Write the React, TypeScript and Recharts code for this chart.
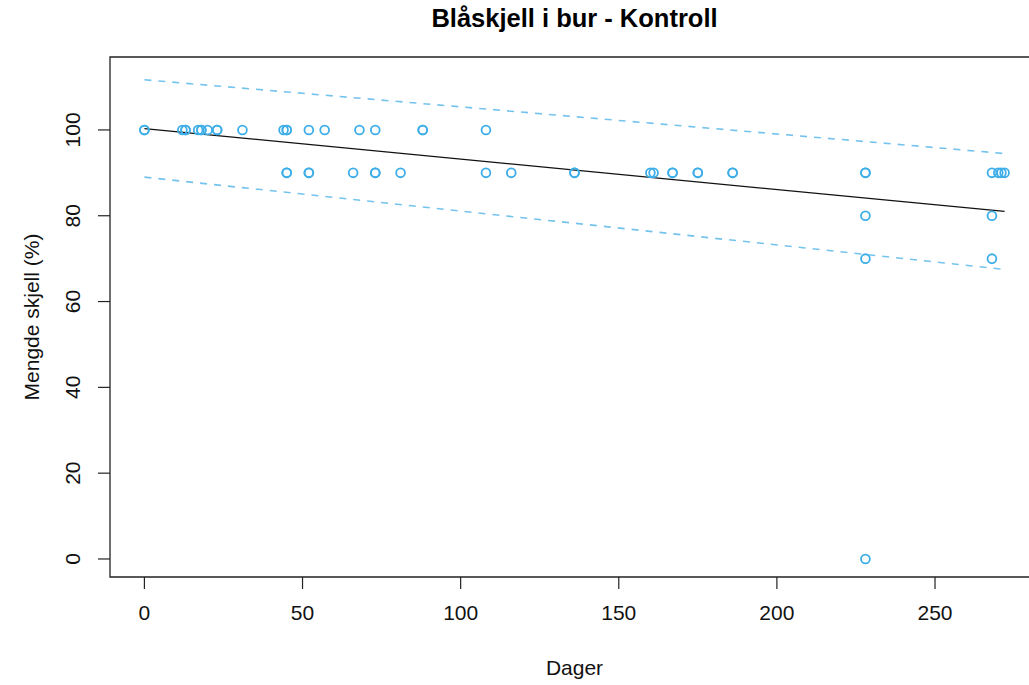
import React from "react";
import {
  ComposedChart,
  XAxis,
  YAxis,
  Scatter,
  Line,
  ReferenceArea,
} from "recharts";

// Observations: days in cage and share of mussels remaining (%)
const dager = [
  0, 0, 12, 13, 13, 17, 18, 18, 20, 23, 23, 31, 44, 45, 45, 52, 57, 68, 73, 88, 88, 108,
  45, 45, 52, 52, 66, 73, 73, 81, 108, 116, 136, 136, 160, 161, 167, 167, 175, 175, 186, 186,
  228, 228, 268, 270, 271, 272,
  228, 268,
  228, 268,
  228,
];
const mengde = [
  100, 100, 100, 100, 100, 100, 100, 100, 100, 100, 100, 100, 100, 100, 100, 100, 100, 100, 100, 100, 100, 100,
  90, 90, 90, 90, 90, 90, 90, 90, 90, 90, 90, 90, 90, 90, 90, 90, 90, 90, 90, 90,
  90, 90, 90, 90, 90, 90,
  80, 80,
  70, 70,
  0,
];

// Fitted regression line and its prediction band
const fitDays = [0, 272];
const fitValues = [100.3, 81.0];
const upperValues = [111.7, 94.5];
const lowerValues = [89.0, 67.5];

const xTicks = [0, 50, 100, 150, 200, 250];
const yTicks = [0, 20, 40, 60, 80, 100];

// Axis ranges padded 4% beyond the data on each side
const X_DOMAIN: [number, number] = [-10.88, 282.88];
const Y_DOMAIN: [number, number] = [-4.2, 117.0];

const points = dager.map((d, i) => ({ x: d, y: mengde[i] }));
const toSeries = (vals: number[]) => fitDays.map((d, i) => ({ x: d, y: vals[i] }));
const fitLine = toSeries(fitValues);
const upperLine = toSeries(upperValues);
const lowerLine = toSeries(lowerValues);

const FONT = "'Liberation Sans', Arial, Helvetica, sans-serif";
const POINT_COLOR = "#3eaee8";
const BAND_COLOR = "#74c3ec";

const W = 1029;
const H = 685;
// The plotting region runs a little past the right edge of the page
const CHART_W = 1050;
const LEFT = 110;
const RIGHT = 1039;
const TOP = 57;
const BOTTOM = 577;
const CENTER_X = (LEFT + RIGHT) / 2;

const XTick = (props: any) => {
  const { x, y, payload } = props;
  return (
    <text x={x} y={y + 15} textAnchor="middle" fontFamily={FONT} fontSize={21} fill="#111">
      {payload.value}
    </text>
  );
};

const YTick = (props: any) => {
  const { x, y, payload } = props;
  return (
    <text
      x={x}
      y={y}
      transform={`rotate(-90 ${x} ${y})`}
      textAnchor="middle"
      fontFamily={FONT}
      fontSize={21}
      fill="#111"
    >
      {payload.value}
    </text>
  );
};

const Ring = (props: any) => {
  const { cx, cy } = props;
  return <circle cx={cx} cy={cy} r={4.4} fill="none" stroke={POINT_COLOR} strokeWidth={1.8} />;
};

export default function App() {
  return (
    <div
      style={{
        position: "absolute",
        left: 0,
        top: 0,
        width: W,
        height: H,
        overflow: "hidden",
        background: "#fff",
      }}
    >
      <ComposedChart
        width={CHART_W}
        height={H}
        margin={{ top: TOP, right: CHART_W - RIGHT, left: LEFT - 60, bottom: 0 }}
      >
        <XAxis
          type="number"
          dataKey="x"
          domain={X_DOMAIN}
          allowDataOverflow
          ticks={xTicks}
          interval={0}
          axisLine={false}
          tickLine={{ stroke: "#222", strokeWidth: 1.2 }}
          tickSize={12}
          tickMargin={16}
          height={H - BOTTOM}
          tick={<XTick />}
        />
        <YAxis
          type="number"
          dataKey="y"
          domain={Y_DOMAIN}
          allowDataOverflow
          ticks={yTicks}
          interval={0}
          axisLine={false}
          tickLine={{ stroke: "#222", strokeWidth: 1.2 }}
          tickSize={12}
          tickMargin={18}
          width={60}
          tick={<YTick />}
        />
        <ReferenceArea
          x1={X_DOMAIN[0]}
          x2={X_DOMAIN[1]}
          y1={Y_DOMAIN[0]}
          y2={Y_DOMAIN[1]}
          fill="none"
          stroke="#222"
          strokeWidth={1.3}
          ifOverflow="visible"
        />
        <Line
          data={upperLine}
          dataKey="y"
          type="linear"
          stroke={BAND_COLOR}
          strokeWidth={1.6}
          strokeDasharray="7 7"
          dot={false}
          activeDot={false}
          isAnimationActive={false}
        />
        <Line
          data={lowerLine}
          dataKey="y"
          type="linear"
          stroke={BAND_COLOR}
          strokeWidth={1.6}
          strokeDasharray="7 7"
          dot={false}
          activeDot={false}
          isAnimationActive={false}
        />
        <Line
          data={fitLine}
          dataKey="y"
          type="linear"
          stroke="#111"
          strokeWidth={1.3}
          dot={false}
          activeDot={false}
          isAnimationActive={false}
        />
        <Scatter data={points} dataKey="y" shape={<Ring />} isAnimationActive={false} />
        <text
          x={CENTER_X}
          y={27}
          textAnchor="middle"
          fontFamily={FONT}
          fontWeight="bold"
          fontSize={25.5}
          fill="#000"
        >
          Blåskjell i bur - Kontroll
        </text>
        <text
          x={CENTER_X}
          y={675}
          textAnchor="middle"
          fontFamily={FONT}
          fontSize={21}
          fill="#111"
        >
          Dager
        </text>
        <text
          x={39}
          y={(TOP + BOTTOM) / 2}
          transform={`rotate(-90 39 ${(TOP + BOTTOM) / 2})`}
          textAnchor="middle"
          fontFamily={FONT}
          fontSize={21}
          fill="#111"
        >
          Mengde skjell (%)
        </text>
      </ComposedChart>
    </div>
  );
}
